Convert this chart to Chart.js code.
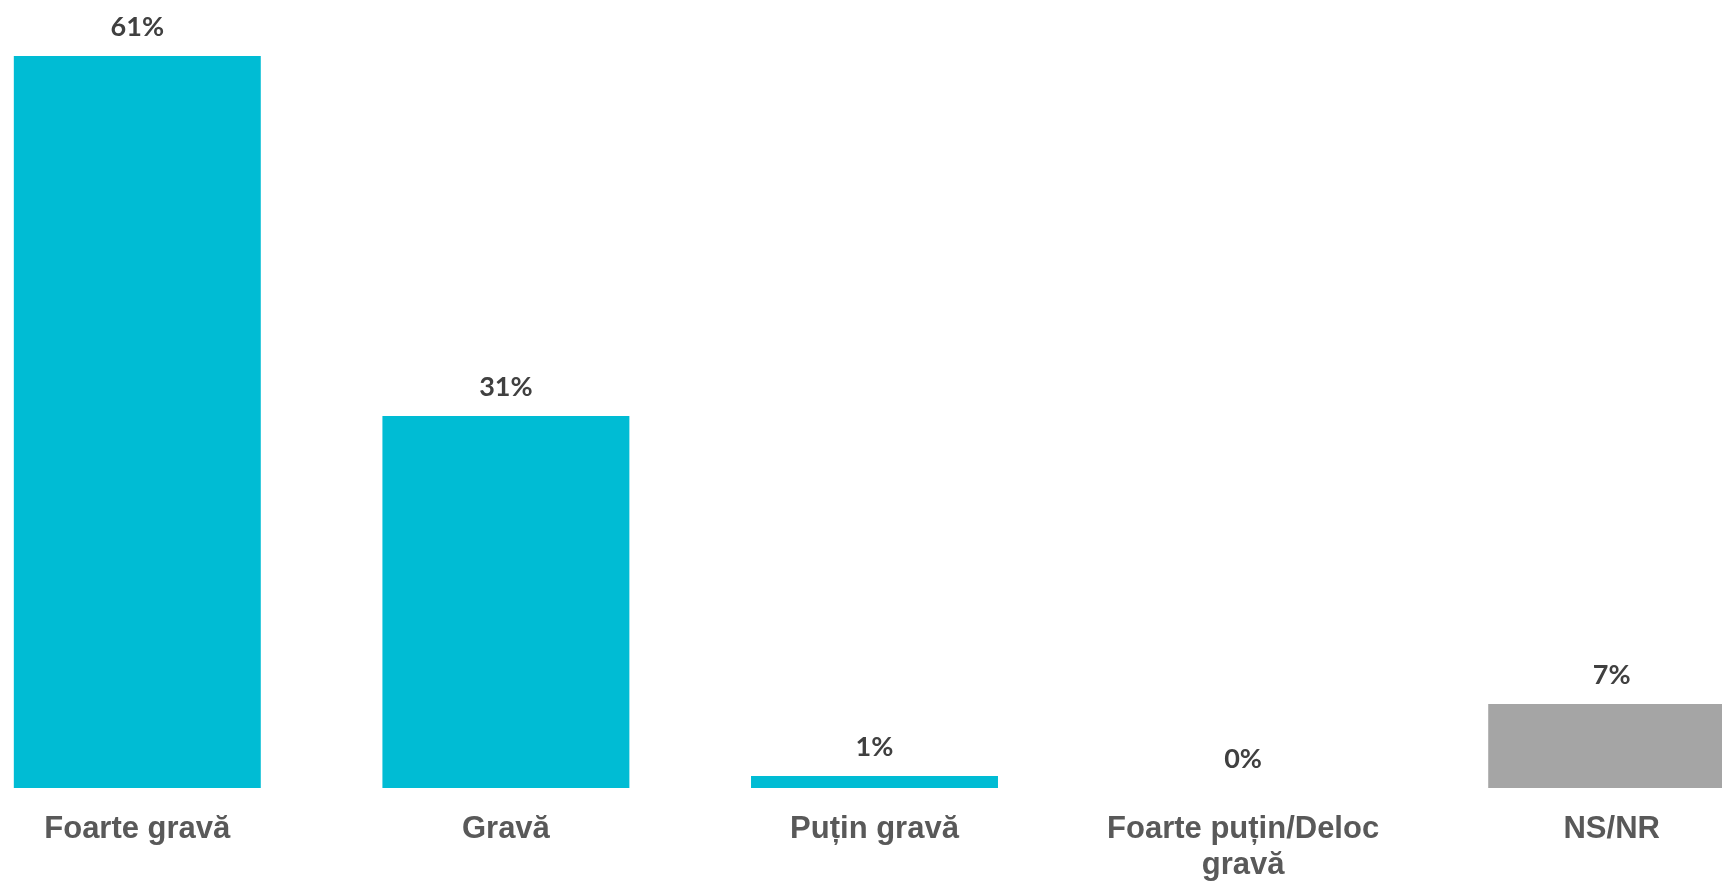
<!DOCTYPE html>
<html>
<head>
<meta charset="utf-8">
<script src="https://cdn.jsdelivr.net/npm/chart.js@4"></script>
<style>
  html, body { margin: 0; padding: 0; background: #fff; overflow: hidden; }
  #wrap { position: absolute; left: -47px; top: 0; width: 1843px; height: 881px; }
</style>
</head>
<body>
<div id="wrap"><canvas id="gravityChart"></canvas></div>
<script>
const categories = ['Foarte gravă', 'Gravă', 'Puțin gravă', ['Foarte puțin/Deloc', 'gravă'], 'NS/NR'];
const values = [61, 31, 1, 0, 7];
const valueLabels = ['61%', '31%', '1%', '0%', '7%'];

const barColors = ['#00BCD4', '#00BCD4', '#00BCD4', '#00BCD4', '#A5A5A5'];

/* value labels above bars */
const valueLabelPlugin = {
    id: 'valueLabels',
    afterDatasetsDraw(chart) {
        const ctx = chart.ctx;
        const meta = chart.getDatasetMeta(0);
        ctx.save();
        ctx.font = 'bold 27px Lato';
        ctx.fillStyle = '#404040';
        ctx.textAlign = 'center';
        ctx.textBaseline = 'alphabetic';
        meta.data.forEach((bar, i) => {
            ctx.fillText(valueLabels[i], bar.x, bar.y - 20);
        });
        ctx.restore();
    }
};

new Chart(document.getElementById('gravityChart'), {
    type: 'bar',
    data: {
        labels: categories,
        datasets: [{
            data: values,
            backgroundColor: barColors,
            categoryPercentage: 1,
            barPercentage: 0.67
        }]
    },
    options: {
        responsive: true,
        maintainAspectRatio: false,
        animation: false,
        layout: { padding: { top: 8, left: 0, right: 0, bottom: 0 } },
        plugins: {
            legend: { display: false },
            tooltip: { enabled: false }
        },
        scales: {
            x: {
                grid: { display: false },
                border: { display: false },
                ticks: {
                    color: '#595959',
                    padding: 15,
                    maxRotation: 0,
                    autoSkip: false,
                    font: { family: 'Arial', weight: 'bold', size: 31, lineHeight: 1.17 }
                },
                afterFit: scale => { scale.height = 93; }
            },
            y: {
                display: false,
                min: 0,
                max: 65
            }
        }
    },
    plugins: [valueLabelPlugin]
});
</script>
</body>
</html>
